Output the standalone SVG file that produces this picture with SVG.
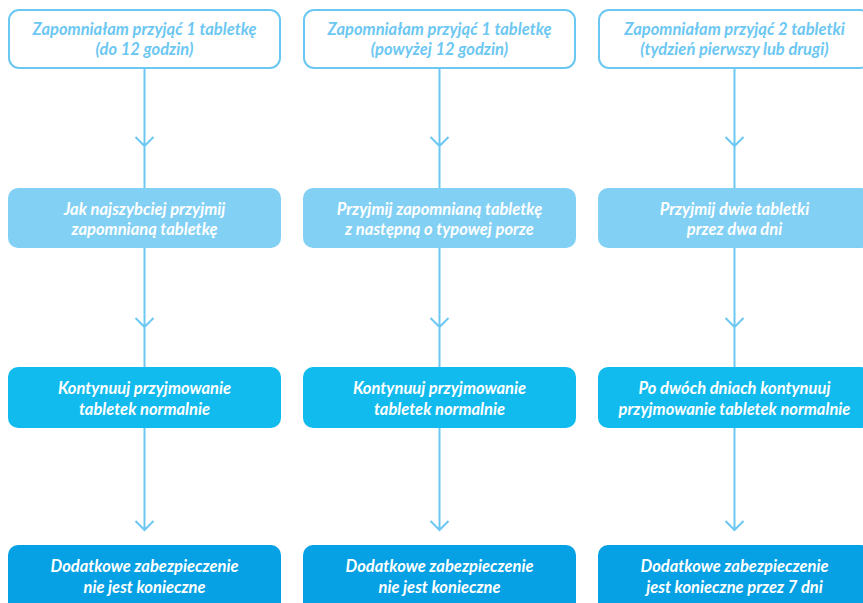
<svg xmlns="http://www.w3.org/2000/svg" width="863" height="603" viewBox="0 0 863 603">
<style>
.t{font-family:Lato,"Open Sans","Liberation Sans",sans-serif;font-weight:bold;font-style:italic;font-size:16.5px;text-anchor:middle}
.w{fill:#ffffff}
.q{fill:#6cc7f2}
.b0{fill:#ffffff;stroke:#6cc8f2;stroke-width:2}
.b1{fill:#82d0f4}
.b2{fill:#12bbee}
.b3{fill:#06a1e4}
.c{stroke:#6cc8f2;stroke-width:2;fill:none}
</style>
<rect width="863" height="603" fill="#ffffff"/>
<g id="connectors">
<path class="c" d="M144.5 68V188M135.5 137L144.5 146L153.5 137"/>
<path class="c" d="M144.5 248V367M135.5 318L144.5 327L153.5 318"/>
<path class="c" d="M144.5 428V530M135.5 521L144.5 530L153.5 521"/>
<path class="c" d="M439.5 68V188M430.5 137L439.5 146L448.5 137"/>
<path class="c" d="M439.5 248V367M430.5 318L439.5 327L448.5 318"/>
<path class="c" d="M439.5 428V530M430.5 521L439.5 530L448.5 521"/>
<path class="c" d="M734.5 68V188M725.5 137L734.5 146L743.5 137"/>
<path class="c" d="M734.5 248V367M725.5 318L734.5 327L743.5 318"/>
<path class="c" d="M734.5 428V530M725.5 521L734.5 530L743.5 521"/>
</g>
<g id="n11"><rect class="b0" x="9" y="10" width="271" height="58" rx="10"/><text class="t q" x="144.5" y="35">Zapomniałam przyjąć 1 tabletkę</text><text class="t q" x="144.5" y="55">(do 12 godzin)</text></g>
<g id="n12"><rect class="b0" x="304" y="10" width="271" height="58" rx="10"/><text class="t q" x="439.5" y="35">Zapomniałam przyjąć 1 tabletkę</text><text class="t q" x="439.5" y="55">(powyżej 12 godzin)</text></g>
<g id="n13"><rect class="b0" x="599" y="10" width="271" height="58" rx="10"/><text class="t q" x="734.5" y="35">Zapomniałam przyjąć 2 tabletki</text><text class="t q" x="734.5" y="55">(tydzień pierwszy lub drugi)</text></g>
<g id="n21"><rect class="b1" x="8" y="188" width="273" height="60" rx="10"/><text class="t w" x="144.5" y="215">Jak najszybciej przyjmij</text><text class="t w" x="144.5" y="235">zapomnianą tabletkę</text></g>
<g id="n22"><rect class="b1" x="303" y="188" width="273" height="60" rx="10"/><text class="t w" x="439.5" y="215">Przyjmij zapomnianą tabletkę</text><text class="t w" x="439.5" y="235">z następną o typowej porze</text></g>
<g id="n23"><rect class="b1" x="598" y="188" width="273" height="60" rx="10"/><text class="t w" x="734.5" y="215">Przyjmij dwie tabletki</text><text class="t w" x="734.5" y="235">przez dwa dni</text></g>
<g id="n31"><rect class="b2" x="8" y="367" width="273" height="61" rx="10"/><text class="t w" x="144.5" y="394">Kontynuuj przyjmowanie</text><text class="t w" x="144.5" y="415">tabletek normalnie</text></g>
<g id="n32"><rect class="b2" x="303" y="367" width="273" height="61" rx="10"/><text class="t w" x="439.5" y="394">Kontynuuj przyjmowanie</text><text class="t w" x="439.5" y="415">tabletek normalnie</text></g>
<g id="n33"><rect class="b2" x="598" y="367" width="273" height="61" rx="10"/><text class="t w" x="734.5" y="394">Po dwóch dniach kontynuuj</text><text class="t w" x="734.5" y="415">przyjmowanie tabletek normalnie</text></g>
<g id="n41"><rect class="b3" x="8" y="545" width="273" height="70" rx="10"/><text class="t w" x="144.5" y="572">Dodatkowe zabezpieczenie</text><text class="t w" x="144.5" y="593">nie jest konieczne</text></g>
<g id="n42"><rect class="b3" x="303" y="545" width="273" height="70" rx="10"/><text class="t w" x="439.5" y="572">Dodatkowe zabezpieczenie</text><text class="t w" x="439.5" y="593">nie jest konieczne</text></g>
<g id="n43"><rect class="b3" x="598" y="545" width="273" height="70" rx="10"/><text class="t w" x="734.5" y="572">Dodatkowe zabezpieczenie</text><text class="t w" x="734.5" y="593">jest konieczne przez 7 dni</text></g>
</svg>
